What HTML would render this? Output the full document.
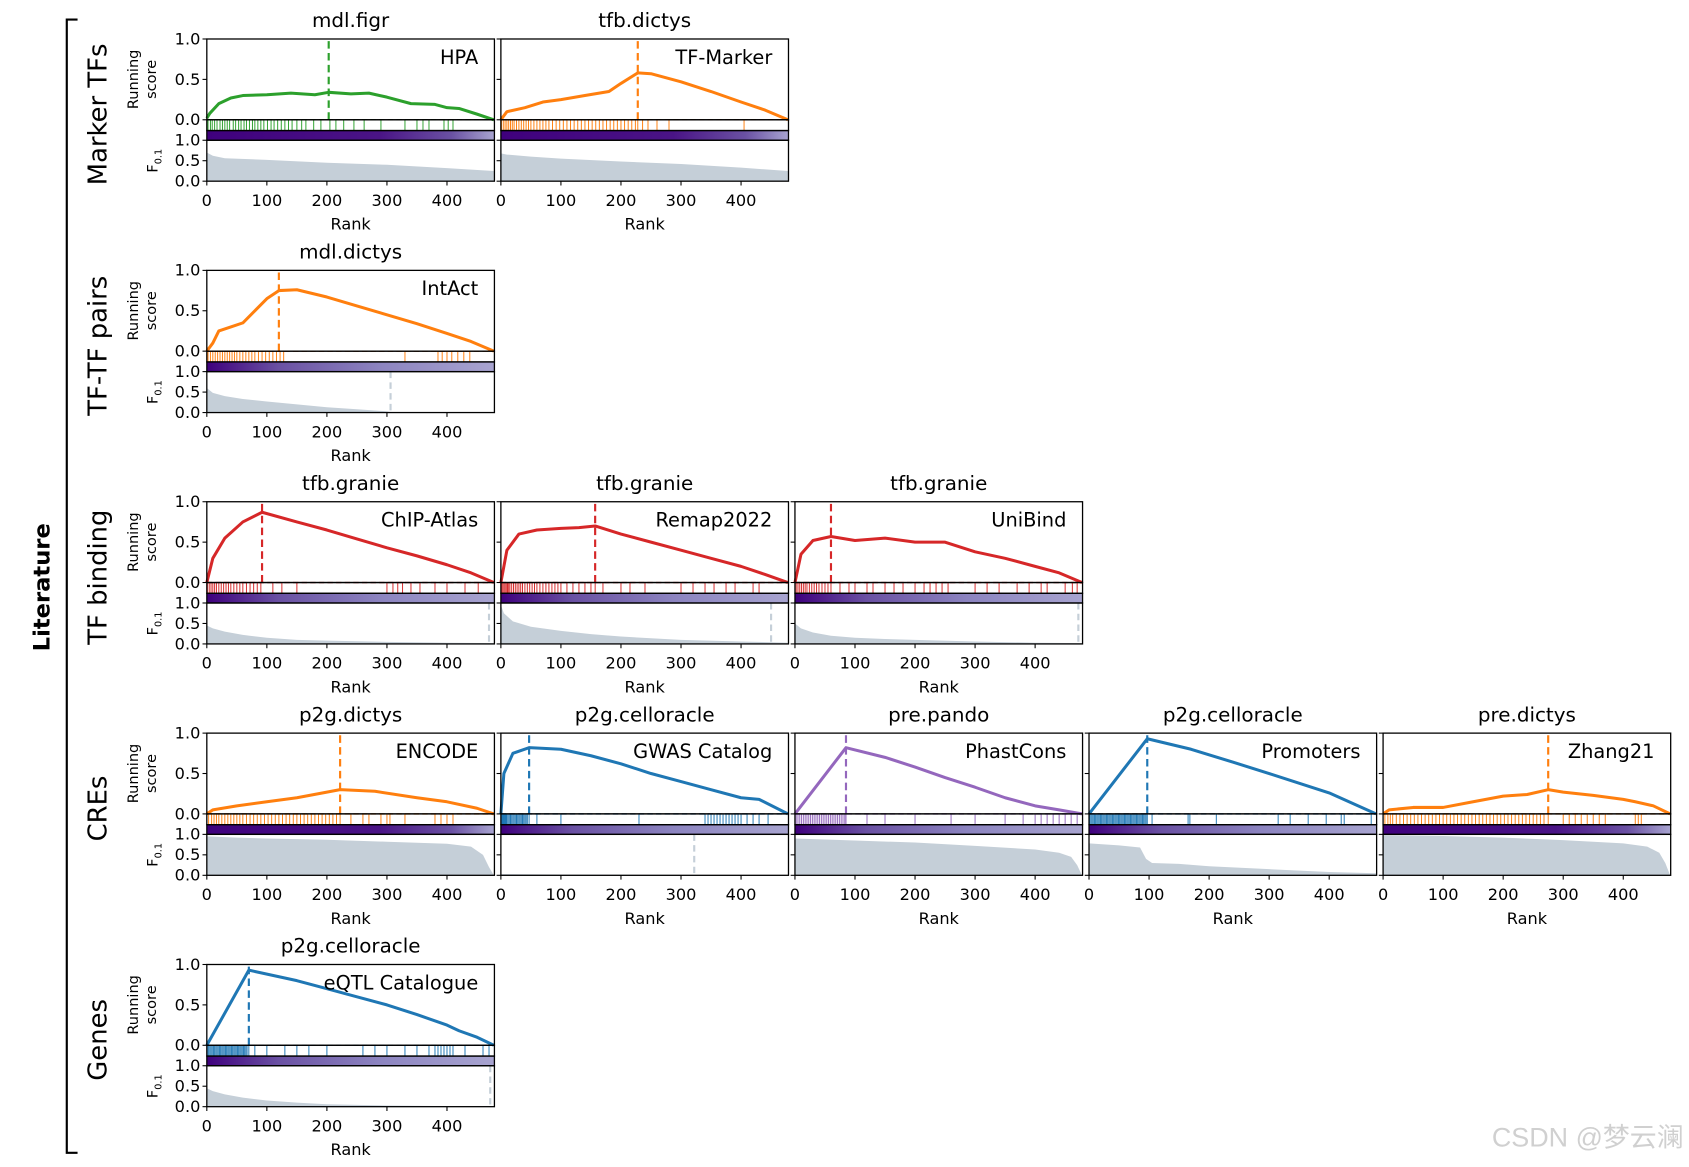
<!DOCTYPE html>
<html><head><meta charset="utf-8">
<style>
html,body{margin:0;padding:0;background:#fff;}
svg{display:block;font-family:"DejaVu Sans","Liberation Sans",sans-serif;}
</style></head>
<body>
<svg id="fig" width="1689" height="1167" viewBox="0 0 1568 1083" xmlns="http://www.w3.org/2000/svg">
<defs>
<linearGradient id="cbar" x1="0" x2="1" y1="0" y2="0">
<stop offset="0" stop-color="#3f007d"/><stop offset="0.25" stop-color="#6a51a3"/><stop offset="0.6" stop-color="#8c84c0"/><stop offset="1" stop-color="#a8a4d0"/>
</linearGradient>
<linearGradient id="cbarDark" x1="0" x2="1" y1="0" y2="0">
<stop offset="0" stop-color="#3f007d"/><stop offset="0.6" stop-color="#4a1486"/><stop offset="0.85" stop-color="#6a51a3"/><stop offset="1" stop-color="#a8a4d0"/>
</linearGradient>
</defs>
</svg>
<script>
// ---- data ----
const panelTitles = ["mdl.figr","tfb.dictys","mdl.dictys","tfb.granie","tfb.granie","tfb.granie","p2g.dictys","p2g.celloracle","pre.pando","p2g.celloracle","pre.dictys","p2g.celloracle"];
const panelLabels = ["HPA","TF-Marker","IntAct","ChIP-Atlas","Remap2022","UniBind","ENCODE","GWAS Catalog","PhastCons","Promoters","Zhang21","eQTL Catalogue"];
const panelRows = [0,0,1,2,2,2,3,3,3,3,3,4];
const panelCols = [0,1,0,0,1,2,0,1,2,3,4,0];
const panelColors = ["#2ca02c","#ff7f0e","#ff7f0e","#d62728","#d62728","#d62728","#ff7f0e","#1f77b4","#9467bd","#1f77b4","#ff7f0e","#1f77b4"];
const peakRanks = [203,228,120,92,157,60,222,47,85,97,275,70];
const cutoffRanks = [null,null,306,470,450,472,null,322,null,null,null,472];
const darkBar = [true,true,false,false,false,false,true,false,false,false,true,false];
const rowNames = ["Marker TFs","TF-TF pairs","TF binding","CREs","Genes"];
const xTicks = [0,100,200,300,400];
const yTicks = [0.0,0.5,1.0];

const scoreRanks = [
 [0,5,20,40,60,100,140,180,203,240,270,300,340,380,400,420,450,478],
 [0,10,40,70,100,140,180,200,228,250,300,350,400,440,478],
 [0,10,20,40,60,80,100,120,150,200,250,300,350,400,440,478],
 [0,10,30,60,92,150,200,250,300,350,400,440,478],
 [0,10,30,60,100,130,157,200,250,300,350,400,440,478],
 [0,10,30,60,100,150,200,250,300,350,400,440,478],
 [0,10,50,100,150,200,222,280,350,400,450,478],
 [0,5,20,47,100,150,200,250,300,350,400,430,478],
 [0,85,150,200,250,300,350,400,440,478],
 [0,97,170,240,300,400,478],
 [0,10,50,100,150,200,240,275,300,350,400,420,450,478],
 [0,70,150,200,250,300,350,400,420,450,478]
];
const scoreVals = [
 [0.02,0.08,0.2,0.27,0.3,0.31,0.33,0.31,0.34,0.32,0.33,0.28,0.2,0.19,0.15,0.14,0.07,0],
 [0,0.1,0.15,0.22,0.25,0.3,0.35,0.45,0.58,0.57,0.47,0.35,0.22,0.12,0],
 [0,0.1,0.25,0.3,0.35,0.5,0.65,0.75,0.76,0.67,0.56,0.45,0.34,0.22,0.12,0],
 [0,0.3,0.55,0.75,0.87,0.75,0.65,0.54,0.43,0.33,0.22,0.12,0],
 [0,0.4,0.6,0.65,0.67,0.68,0.7,0.6,0.5,0.4,0.3,0.2,0.1,0],
 [0,0.35,0.52,0.57,0.52,0.55,0.5,0.5,0.38,0.3,0.2,0.12,0],
 [0,0.05,0.1,0.15,0.2,0.27,0.3,0.28,0.2,0.15,0.07,0],
 [0,0.5,0.75,0.82,0.8,0.72,0.62,0.5,0.4,0.3,0.2,0.18,0],
 [0,0.82,0.7,0.58,0.45,0.33,0.2,0.1,0.05,0],
 [0,0.93,0.8,0.64,0.5,0.26,0],
 [0,0.05,0.08,0.08,0.15,0.22,0.24,0.3,0.27,0.23,0.18,0.15,0.1,0],
 [0,0.93,0.8,0.7,0.6,0.5,0.38,0.25,0.18,0.1,0]
];
const hitRanks = [
 [2,6,9,13,17,22,26,30,34,38,44,48,53,57,62,66,71,76,80,85,90,95,101,107,112,118,124,130,136,142,150,158,165,178,190,205,215,228,245,262,290,330,350,360,370,395,402,410],
 [1,4,7,10,13,16,19,22,26,30,34,38,42,46,50,55,60,65,70,75,80,86,92,98,104,110,116,122,128,134,140,146,152,158,164,170,176,182,188,194,200,206,212,218,224,228,236,245,260,280,405],
 [2,6,10,14,18,22,26,30,34,38,42,46,50,55,60,65,70,75,80,86,92,98,104,110,116,122,128,330,385,392,400,408,418,428,438],
 [1,4,7,10,13,16,20,24,28,32,36,40,45,50,55,60,66,72,78,84,90,110,125,150,300,310,318,326,340,355,380,400,430,452],
 [1,3,5,7,9,11,13,15,18,21,24,27,30,33,36,40,44,48,52,56,60,65,70,75,80,85,90,95,100,110,120,130,140,150,157,170,200,215,240,300,320,340,355,375,390,420,430],
 [2,5,8,11,14,17,20,24,28,32,36,40,45,50,55,60,75,90,100,120,130,150,165,180,200,215,225,235,245,255,300,320,340,370,390,410,420,450,462,470],
 [3,8,12,16,20,25,30,35,40,45,50,55,60,66,72,78,84,90,96,102,108,114,120,126,132,138,144,150,156,162,168,174,180,186,192,198,204,210,216,222,240,260,270,290,300,305,330,380,390,400,410],
 [1,2,3,4,5,6,7,8,9,10,12,14,16,18,20,22,24,26,28,30,32,34,36,38,40,42,44,47,60,100,230,340,345,350,355,360,365,370,375,380,385,390,395,400,410,420,430,445],
 [2,5,8,11,14,17,20,23,26,29,32,35,38,41,44,47,50,53,56,59,62,65,68,71,74,77,80,83,85,120,150,200,260,300,350,380,400,410,420,430,440,450,460,470],
 [1,3,5,7,9,11,13,15,17,19,21,23,25,27,29,31,33,35,37,39,41,43,45,47,49,51,53,55,57,59,61,63,65,67,69,71,73,75,77,79,81,83,85,87,89,91,93,95,97,105,165,168,212,315,335,365,395,420,425,470],
 [3,8,12,16,22,28,34,40,46,52,58,64,70,76,82,88,94,100,106,112,118,124,130,136,142,148,154,160,166,172,178,184,190,196,202,208,214,220,226,232,238,244,250,256,262,268,275,300,310,320,330,340,350,360,370,420,425,430],
 [1,3,5,7,9,11,13,15,17,19,21,23,25,27,29,31,33,35,37,39,41,43,45,47,49,51,53,55,57,59,61,63,65,67,70,80,100,130,150,170,200,260,280,300,330,350,370,380,385,390,395,400,405,410,430,460,470]
];
const fRanks = [
 [0,10,30,100,200,300,400,478],
 [0,10,50,100,200,300,400,478],
 [0,10,30,60,100,150,200,250,300,310,478],
 [0,10,30,60,100,150,200,300,400,478],
 [0,5,20,50,100,150,200,300,400,478],
 [0,10,30,60,100,150,200,300,400,478],
 [0,50,100,200,300,400,440,460,470,478],
 [0,100,300,478],
 [0,100,200,300,400,440,460,470,478],
 [0,50,85,95,105,150,200,300,400,478],
 [0,100,200,300,400,440,460,470,478],
 [0,10,30,60,100,150,200,300,478]
];
const fVals = [
 [0.7,0.62,0.56,0.52,0.45,0.4,0.32,0.25],
 [0.68,0.65,0.6,0.55,0.48,0.42,0.33,0.25],
 [0.6,0.48,0.4,0.33,0.27,0.2,0.13,0.08,0.03,0,0],
 [0.45,0.38,0.3,0.22,0.15,0.1,0.08,0.05,0.03,0.02],
 [0.95,0.75,0.55,0.42,0.32,0.24,0.18,0.1,0.06,0.03],
 [0.5,0.38,0.28,0.2,0.15,0.12,0.1,0.06,0.03,0.02],
 [0.95,0.92,0.9,0.87,0.82,0.77,0.7,0.5,0.2,0],
 [0.03,0.02,0.01,0],
 [0.9,0.85,0.8,0.72,0.63,0.55,0.45,0.25,0],
 [0.78,0.73,0.68,0.4,0.3,0.28,0.22,0.15,0.08,0.05],
 [0.98,0.96,0.92,0.86,0.78,0.7,0.55,0.3,0],
 [0.45,0.38,0.3,0.22,0.15,0.1,0.06,0.03,0]
];

// ---- layout ----
const NS = "http://www.w3.org/2000/svg";
const svg = document.getElementById("fig");
const colX0 = 192, colStep = 273, panelW = 267, rowY0 = 36, rowStep = 214.8;
const scoreH = 75, rugH = 10, barH = 9, fH = 38, xMax = 479;
function mk(tag, attrs, parent, text){
  const e = document.createElementNS(NS, tag);
  for (const k in attrs) e.setAttribute(k, attrs[k]);
  if (text !== undefined) e.textContent = text;
  (parent || svg).appendChild(e);
  return e;
}
function xs(px, r){ return px + r / xMax * panelW; }

// bracket & labels
const br = mk("path",{d:"M72,18 H62 V1070 H72",fill:"none",stroke:"#000","stroke-width":2});


const lit = mk("text",{x:0,y:0,transform:"translate(46,545) rotate(-90)","text-anchor":"middle","font-size":21,"font-weight":"bold"},svg,"Literature");


rowNames.forEach((n,i)=>{
  const cy = rowY0 + i*rowStep + 70;
  const t = mk("text",{transform:`translate(99,${cy}) rotate(-90)`,"text-anchor":"middle","font-size":24},svg,n);
  
  
});

panelTitles.forEach((title,p)=>{
  const px = colX0 + panelCols[p]*colStep;
  const top = rowY0 + panelRows[p]*rowStep;
  const y0 = top + scoreH;
  const g = mk("g",{});
  
  
  const col = panelColors[p];
  const ys = v => y0 - v*scoreH;
  const fy0 = y0 + rugH + barH + fH;
  const fys = v => fy0 - v*fH;

  // title
  const tt = mk("text",{x:px+panelW/2,y:top-11,"text-anchor":"middle","font-size":18.5},g,title);
  
  

  // F area
  let d = `M${xs(px,fRanks[p][0])},${fy0}`;
  fRanks[p].forEach((r,i)=>{ d += ` L${xs(px,r)},${fys(fVals[p][i])}`; });
  d += ` L${xs(px,fRanks[p][fRanks[p].length-1])},${fy0} Z`;
  const fa = mk("path",{d:d,fill:"#c5cfd8"},g);
  
  
  if (cutoffRanks[p] !== null){
    const cl = mk("line",{x1:xs(px,cutoffRanks[p]),x2:xs(px,cutoffRanks[p]),y1:fys(1),y2:fy0,stroke:"#c5cfd8","stroke-width":2,"stroke-dasharray":"6,4"},g);
    
    
  }
  // colorbar
  const cb = mk("rect",{x:px,y:y0+rugH,width:panelW,height:barH,fill:darkBar[p]?"url(#cbarDark)":"url(#cbar)"},g);
  
  
  // hits
  hitRanks[p].forEach(r=>{
    const h = mk("line",{x1:xs(px,r),x2:xs(px,r),y1:y0,y2:y0+rugH,stroke:col,"stroke-width":0.9},g);
    
    
  });
  // zero dashed line
  const zl = mk("line",{x1:px,x2:px+panelW,y1:y0,y2:y0,stroke:col,"stroke-width":1.3,"stroke-dasharray":"5,3"},g);
  
  
  // peak line
  const pl = mk("line",{x1:xs(px,peakRanks[p]),x2:xs(px,peakRanks[p]),y1:top+2,y2:y0,stroke:col,"stroke-width":2,"stroke-dasharray":"7,4"},g);
  
  
  // score line
  const pts = scoreRanks[p].map((r,i)=>`${xs(px,r)},${ys(scoreVals[p][i])}`).join(" ");
  const sl = mk("polyline",{points:pts,fill:"none",stroke:col,"stroke-width":2.8,"stroke-linejoin":"round"},g);
  
  

  // frames
  [[top,scoreH],[y0,rugH],[y0+rugH,barH],[y0+rugH+barH,fH]].forEach(f=>{
    const fr = mk("rect",{x:px,y:f[0],width:panelW,height:f[1],fill:"none",stroke:"#000","stroke-width":1.2},g);
    
    
  });
  // label
  const lb = mk("text",{x:px+panelW-15,y:top+23,"text-anchor":"end","font-size":18},g,panelLabels[p]);
  
  

  // y ticks
  yTicks.forEach(v=>{
    [[ys(v)],[fys(v)]].forEach(a=>{
      mk("line",{x1:px-4,x2:px,y1:a[0],y2:a[0],stroke:"#000","stroke-width":1},g);
      if (panelCols[p]===0){
        const yl = mk("text",{x:px-6,y:a[0]+5,"text-anchor":"end","font-size":15},g,v.toFixed(1));
        
        
      }
    });
  });
  if (panelCols[p]===0){
    const rs = mk("text",{transform:`translate(128,${top+scoreH/2}) rotate(-90)`,"text-anchor":"middle","font-size":13.5},g,"Running");
    
    
    const rs2 = mk("text",{transform:`translate(145,${top+scoreH/2}) rotate(-90)`,"text-anchor":"middle","font-size":13.5},g,"score");
    
    
    const ft = mk("text",{transform:`translate(146,${fy0-fH/2}) rotate(-90)`,"text-anchor":"middle","font-size":13.5},g);
    
    
    mk("tspan",{},ft,"F");
    mk("tspan",{"font-size":9,dy:4},ft,"0.1");
  }
  // x ticks
  xTicks.forEach(v=>{
    const x = xs(px,v);
    mk("line",{x1:x,x2:x,y1:fy0,y2:fy0+4,stroke:"#000","stroke-width":1},g);
    const xl = mk("text",{x:x,y:fy0+23,"text-anchor":"middle","font-size":15},g,String(v));
    
    
  });
  const xt = mk("text",{x:px+panelW/2,y:fy0+45,"text-anchor":"middle","font-size":15},g,"Rank");
  
  
});

const wm = mk("text",{x:1563,y:1064,"text-anchor":"end","font-size":25,fill:"#d0d0d0","font-family":"Liberation Sans, Noto Sans CJK SC, sans-serif"},svg,"CSDN @梦云澜");


</script>
</body></html>
